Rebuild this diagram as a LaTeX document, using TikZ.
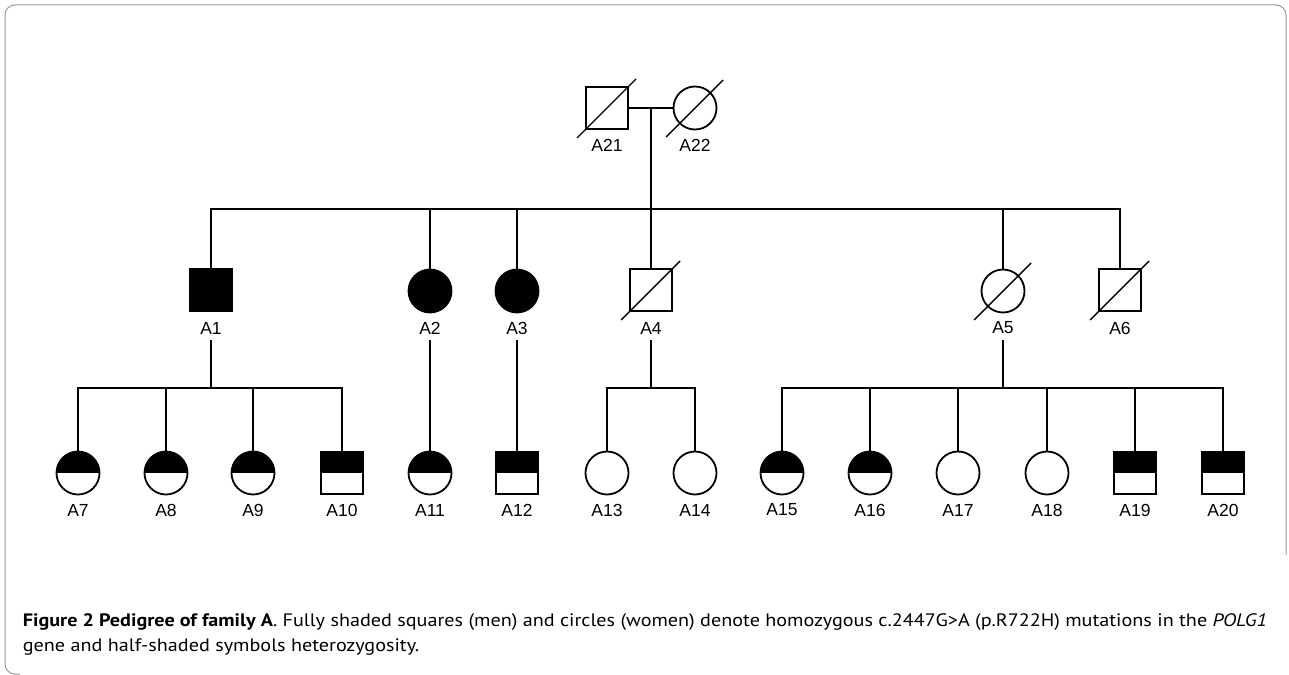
\documentclass[tikz,border=0pt]{standalone}
\usepackage{fontspec}
\setmainfont{Liberation Sans}
\newfontfamily\capfont[FakeStretch=1.12]{PT Sans}
\usetikzlibrary{calc}
\begin{document}
\begin{tikzpicture}[x=1pt,y=-1pt,
  line width=1.8pt,
  male/.style={draw,rectangle,minimum size=42pt,inner sep=0pt},
  female/.style={draw,circle,minimum size=43pt,inner sep=0pt},
  aff/.style={fill=black},
  carrier/.style={path picture={\fill[black] (path picture bounding box.north west) rectangle (path picture bounding box.east);}},
  lab/.style={inner sep=0pt,font=\fontsize{17.5}{20}\selectfont},
  labg/.style={lab,outer ysep=6pt},
  slash/.style={line width=1.4pt},
  frame/.style={draw=black!40,line width=1pt,rounded corners=10pt},
  captxt/.style={anchor=base west,inner sep=0pt,font=\capfont\fontsize{18}{21}\selectfont}
]
\useasboundingbox (0,0) rectangle (1289,674);
\coordinate (fr1) at (1286,555);
\coordinate (fr2) at (1286,5);
\coordinate (fr3) at (5,5);
\coordinate (fr4) at (5,674);
\coordinate (fr5) at (20,674);
\draw[frame] (fr1) -- (fr2) -- (fr3) -- (fr4) -- (fr5);

% generation I
\node[male] (a21) at (607,108) {};
\node[female] (a22) at (695,108) {};
\node[lab] (l21) at (607,145) {A21};
\node[lab] (l22) at (695,145) {A22};
\draw[slash] ($(a21)+(-30,30)$) -- ($(a21)+(29,-29)$);
\draw[slash] ($(a22)+(-29,29)$) -- ($(a22)+(28,-28)$);
\draw (a21.east) -- (a22.west);
\coordinate (m) at (651,108);
\coordinate (sib) at (651,209);
\draw (m) -- (sib);

% generation II
\node[male,aff] (a1) at (211,290) {};
\node[female,aff] (a2) at (430,291) {};
\node[female,aff] (a3) at (517,291) {};
\node[male] (a4) at (651,290) {};
\node[female] (a5) at (1003,291) {};
\node[male] (a6) at (1120,290) {};
\draw[slash] ($(a4)+(-30,30)$) -- ($(a4)+(29,-29)$);
\draw[slash] ($(a5)+(-29,29)$) -- ($(a5)+(28,-28)$);
\draw[slash] ($(a6)+(-30,30)$) -- ($(a6)+(29,-29)$);
\node[labg] (l1) at (211,328) {A1};
\node[labg] (l2) at (430,328) {A2};
\node[labg] (l3) at (517,328) {A3};
\node[labg] (l4) at (651,328) {A4};
\node[labg] (l5) at (1003,328) {A5};
\node[labg] (l6) at (1120,328) {A6};
\draw (a1.north) -- (a1.north |- sib) -- (a6.north |- sib) -- (a6.north);
\foreach \n in {a2,a3,a4,a5} \draw (\n.north) -- (\n.north |- sib);

% generation III
\node[female,carrier] (a7) at (78,473) {};
\node[female,carrier] (a8) at (166,473) {};
\node[female,carrier] (a9) at (253,473) {};
\node[male,carrier] (a10) at (342,473) {};
\node[female,carrier] (a11) at (430,473) {};
\node[male,carrier] (a12) at (517,473) {};
\node[female] (a13) at (607,473) {};
\node[female] (a14) at (695,473) {};
\node[female,carrier] (a15) at (782,473) {};
\node[female,carrier] (a16) at (870,473) {};
\node[female] (a17) at (958,473) {};
\node[female] (a18) at (1047,473) {};
\node[male,carrier] (a19) at (1135,473) {};
\node[male,carrier] (a20) at (1223,473) {};
\foreach \n/\x in {7/78,8/166,9/253,10/342,11/430,12/517,13/607,14/695,15/782,16/870,17/958,18/1047,19/1135,20/1223}
  \node[lab] (l\n) at (\x,510) {A\n};

\coordinate (sib3) at (0,388);
% A1 children
\draw (l1.south) -- (l1.south |- sib3);
\draw (a7.north) -- (a7.north |- sib3) -- (a10.north |- sib3) -- (a10.north);
\foreach \n in {a8,a9} \draw (\n.north) -- (\n.north |- sib3);
% A2, A3 children
\draw (l2.south) -- (a11.north);
\draw (l3.south) -- (a12.north);
% A4 children
\draw (l4.south) -- (l4.south |- sib3);
\draw (a13.north) -- (a13.north |- sib3) -- (a14.north |- sib3) -- (a14.north);
% A5 children
\draw (l5.south) -- (l5.south |- sib3);
\draw (a15.north) -- (a15.north |- sib3) -- (a20.north |- sib3) -- (a20.north);
\foreach \n in {a16,a17,a18,a19} \draw (\n.north) -- (\n.north |- sib3);

% caption
\node[captxt] (cap1) at (22,626)
 {\textbf{Figure 2 Pedigree of family A}. Fully shaded squares (men) and circles (women) denote homozygous c.2447G>A (p.R722H) mutations in the \textit{POLG1}};
\node[captxt] (cap2) at (22,651)
 {gene and half-shaded symbols heterozygosity.};
\end{tikzpicture}
\end{document}
